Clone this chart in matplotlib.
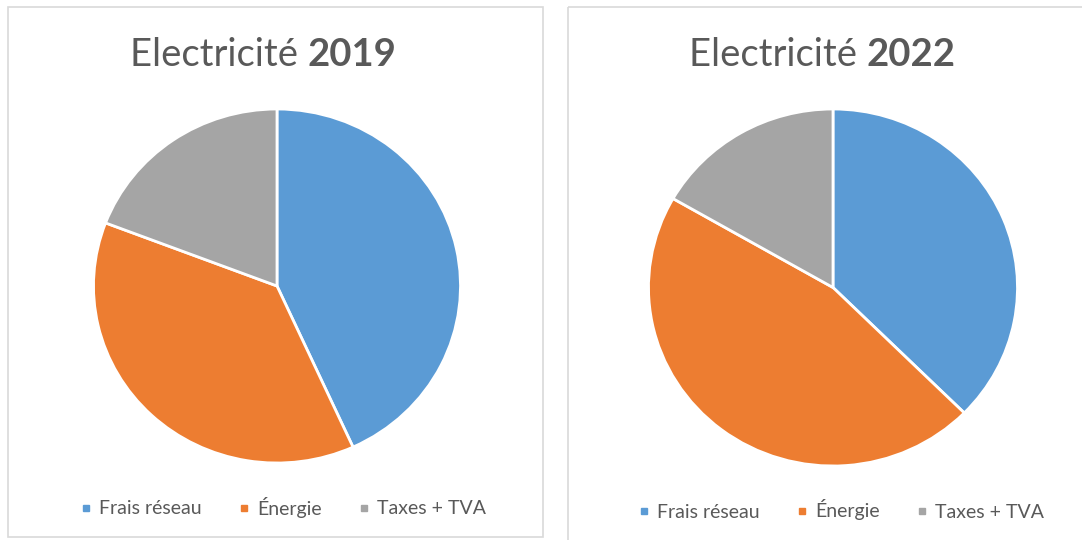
import matplotlib
matplotlib.use("Agg")
import matplotlib.pyplot as plt
from matplotlib.patches import Rectangle
from matplotlib.lines import Line2D

plt.rcParams['font.family'] = ['Lato', 'DejaVu Sans']

categories = ["Frais réseau", "Énergie", "Taxes + TVA"]
values_2019 = [43.2, 37.6, 19.2]
values_2022 = [37.4, 45.9, 16.7]
years = ["2019", "2022"]
colors = ["#5B9BD5", "#ED7D31", "#A5A5A5"]
text_color = "#595959"

W, H = 1082, 540
fig = plt.figure(figsize=(W / 100, H / 100), dpi=100)
fig.patch.set_facecolor("white")

# background axes in pixel coordinates for panel frames
bg = fig.add_axes([0, 0, 1, 1])
bg.set_xlim(0, W)
bg.set_ylim(H, 0)
bg.axis("off")
bg.add_patch(Rectangle((8, 7), 535, 530, fill=False, edgecolor="#D9D9D9", lw=1.2))
bg.add_patch(Rectangle((568, 7), 530, 545, fill=False, edgecolor="#D9D9D9", lw=1.2))


def px_axes(cx, cy, rx, ry):
    return fig.add_axes([(cx - rx) / W, (H - cy - ry) / H, 2 * rx / W, 2 * ry / H])


panels = [
    dict(vals=values_2019, cx=277, cy=286, rx=183.5, ry=177, tx=263, legx=282, legy=507),
    dict(vals=values_2022, cx=833, cy=287.5, rx=184.5, ry=178.5, tx=822, legx=840, legy=510),
]

renderer = fig.canvas.get_renderer()

for p, yr in zip(panels, years):
    ax = px_axes(p["cx"], p["cy"], p["rx"], p["ry"])
    ax.pie(p["vals"], colors=colors, startangle=90, counterclock=False,
           wedgeprops=dict(edgecolor="white", linewidth=2.0))
    ax.set_aspect("auto")
    ax.set_xlim(-1, 1)
    ax.set_ylim(-1, 1)

    # title: normal + bold parts, centred together
    t1 = fig.text(0, 1 - 55 / H, "Electricité ", fontsize=27.5, color=text_color,
                  ha="left", va="center")
    t2 = fig.text(0, 1 - 55 / H, yr, fontsize=27.5, color=text_color,
                  fontweight="bold", ha="left", va="center")
    w1 = t1.get_window_extent(renderer).width
    w2 = t2.get_window_extent(renderer).width
    x0 = p["tx"] - (w1 + w2) / 2
    t1.set_x(x0 / W)
    t2.set_x((x0 + w1) / W)

    handles = [Line2D([], [], marker="s", linestyle="none", markersize=5,
                      markerfacecolor=c, markeredgecolor=c) for c in colors]
    fig.legend(handles, categories, loc="center", ncol=3,
               bbox_to_anchor=(p["legx"] / W, 1 - p["legy"] / H),
               frameon=False, fontsize=14, labelcolor=text_color,
               handletextpad=0.3, columnspacing=1.75, handlelength=0.8)

fig.savefig("out.png", dpi=100, facecolor="white")
